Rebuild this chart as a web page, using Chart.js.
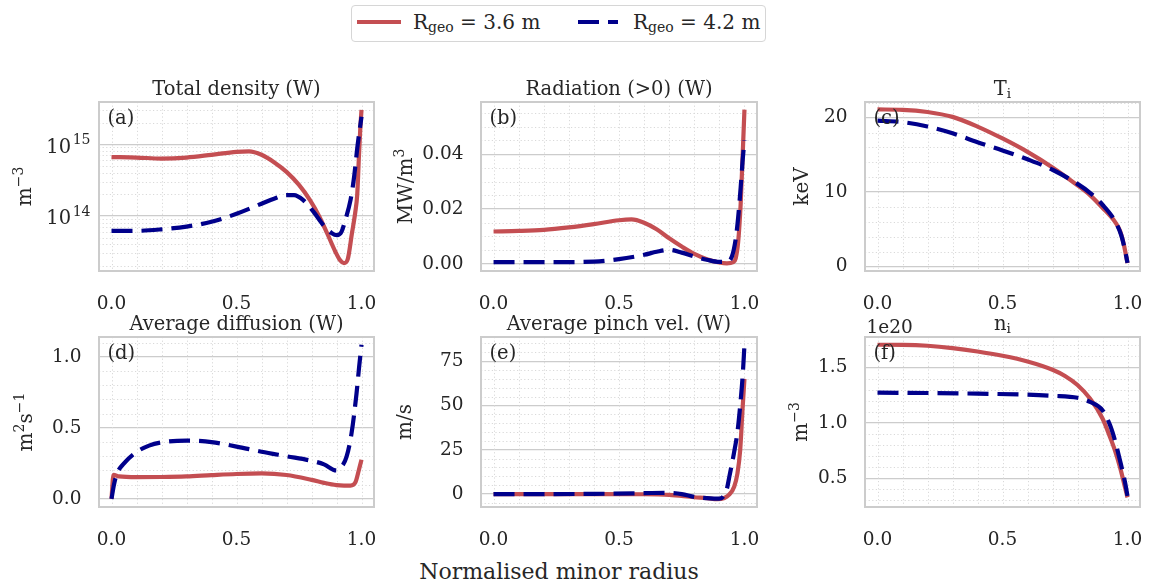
<!DOCTYPE html>
<html><head><meta charset="utf-8">
<script src="https://cdn.jsdelivr.net/npm/chart.js@4.4.1/dist/chart.umd.min.js"></script>
<style>
html,body{margin:0;padding:0;background:#fff}
body{width:1150px;height:588px;position:relative;overflow:hidden;font-family:'DejaVu Serif',serif;color:#262626}
canvas{position:absolute}
.leg{position:absolute;left:351px;top:5px;width:413px;height:35px;border:1.5px solid #d6d6d6;border-radius:4px;background:#fff}
.txt{position:absolute;white-space:nowrap;font-size:20px;line-height:20px}
.txt sub{font-size:0.7em;vertical-align:-0.2em;line-height:0}
.sw{position:absolute;height:4px}
</style></head><body>
<div class="leg"></div>
<div class="sw" style="left:357px;top:20px;width:44px;background:#c44e52"></div>
<div class="txt" style="left:413px;top:12px">R<sub>geo</sub> = 3.6 m</div>
<div class="sw" style="left:578px;top:20px;width:21px;background:#00008b"></div>
<div class="sw" style="left:608px;top:20px;width:10px;background:#00008b"></div>
<div class="txt" style="left:633px;top:12px">R<sub>geo</sub> = 4.2 m</div>
<div class="txt" style="left:0;width:1118px;text-align:center;top:561px;font-size:22px;line-height:22px">Normalised minor radius</div>
<script>
// ---------- shared x axis ----------
const xTicks = [0, 0.5, 1.0];
const xTickLabels = ['0.0', '0.5', '1.0'];
const xMinor = [0, 0.1, 0.2, 0.3, 0.4, 0.5, 0.6, 0.7, 0.8, 0.9, 1.0];

// ---------- (a) Total density (W), m^-3 ----------
const densX_36 = [0, 0.1, 0.2, 0.3, 0.4, 0.5, 0.55, 0.6, 0.65, 0.7, 0.75, 0.794, 0.83, 0.862, 0.895, 0.915, 0.93, 0.945, 0.962, 0.975, 0.983, 0.99, 0.995, 1.0];
const dens_36  = [6.6e14, 6.5e14, 6.3e14, 6.5e14, 7.1e14, 7.8e14, 7.9e14, 7.1e14, 5.6e14, 4.1e14, 2.7e14, 1.66e14, 1.0e14, 5.8e13, 3.2e13, 2.4e13, 2.2e13, 2.5e13, 5.8e13, 1.12e14, 2.0e14, 7.1e14, 1.6e15, 3.0e15];
const densX_42 = [0, 0.1, 0.2, 0.3, 0.4, 0.5, 0.6, 0.65, 0.7, 0.73, 0.767, 0.81, 0.848, 0.88, 0.902, 0.92, 0.935, 0.956, 0.969, 0.985, 1.0];
const dens_42  = [6.2e13, 6.2e13, 6.5e13, 7.1e13, 8.3e13, 1.07e14, 1.48e14, 1.74e14, 1.95e14, 1.95e14, 1.66e14, 1.12e14, 7.4e13, 5.8e13, 5.4e13, 6.0e13, 8.7e13, 1.66e14, 3.2e14, 1.0e15, 2.4e15];
const densTicks = [1e14, 1e15];
const densTickExp = ['14', '15'];          // tick labels: 10^14, 10^15
const densMinor = [2e13, 3e13, 4e13, 5e13, 6e13, 7e13, 8e13, 9e13, 2e14, 3e14, 4e14, 5e14, 6e14, 7e14, 8e14, 9e14, 2e15, 3e15];

// ---------- (b) Radiation (>0) (W), MW/m^3 ----------
const radX_36 = [0, 0.1, 0.2, 0.3, 0.4, 0.5, 0.55, 0.6, 0.65, 0.7, 0.75, 0.8, 0.85, 0.9, 0.93, 0.955, 0.965, 0.975, 0.985, 0.993, 1.0];
const rad_36  = [0.0118, 0.012, 0.0124, 0.0133, 0.0145, 0.0159, 0.0162, 0.015, 0.0126, 0.0093, 0.0063, 0.0036, 0.0017, 0.0005, 0.0002, 0.0006, 0.002, 0.008, 0.022, 0.04, 0.0562];
const radX_42 = [0, 0.2, 0.4, 0.5, 0.6, 0.65, 0.7, 0.75, 0.8, 0.85, 0.9, 0.93, 0.95, 0.965, 0.975, 0.985, 0.993, 1.0];
const rad_42  = [0.0006, 0.0006, 0.0008, 0.0017, 0.0033, 0.0044, 0.0051, 0.0041, 0.0027, 0.0015, 0.0007, 0.0008, 0.0027, 0.009, 0.017, 0.028, 0.038, 0.045];
const radTicks = [0, 0.02, 0.04];
const radTickLabels = ['0.00', '0.02', '0.04'];
const radMinor = [0.005, 0.01, 0.015, 0.025, 0.03, 0.035, 0.045, 0.05, 0.055];

// ---------- (c) T_i, keV ----------
const tiX_36 = [0, 0.1, 0.2, 0.3, 0.4, 0.5, 0.6, 0.7, 0.8, 0.85, 0.9, 0.95, 0.97, 0.985, 1.0];
const ti_36  = [21.1, 21.05, 20.76, 20.1, 18.8, 17.2, 15.4, 13.3, 10.9, 9.6, 7.9, 6.0, 4.8, 3.0, 0.45];
const tiX_42 = [0, 0.1, 0.2, 0.3, 0.4, 0.5, 0.6, 0.7, 0.8, 0.85, 0.9, 0.95, 0.975, 0.99, 1.0];
const ti_42  = [19.6, 19.4, 18.8, 17.9, 16.7, 15.6, 14.4, 13.0, 11.1, 9.9, 8.3, 6.1, 4.2, 2.2, 0.5];
const tiTicks = [0, 10, 20];
const tiTickLabels = ['0', '10', '20'];
const tiMinor = [2, 4, 6, 8, 12, 14, 16, 18, 22];

// ---------- (d) Average diffusion (W), m^2 s^-1 ----------
const difX_36 = [0, 0.008, 0.03, 0.1, 0.2, 0.3, 0.4, 0.5, 0.6, 0.7, 0.8, 0.85, 0.9, 0.93, 0.956, 0.976, 0.989, 1.0];
const dif_36  = [0, 0.17, 0.158, 0.153, 0.154, 0.158, 0.167, 0.175, 0.179, 0.168, 0.134, 0.113, 0.097, 0.094, 0.094, 0.118, 0.2, 0.276];
const difX_42 = [0, 0.01, 0.02, 0.05, 0.1, 0.15, 0.2, 0.3, 0.4, 0.5, 0.6, 0.7, 0.8, 0.85, 0.9, 0.92, 0.94, 0.96, 0.98, 0.99, 1.0];
const dif_42  = [0, 0.1, 0.17, 0.25, 0.33, 0.375, 0.398, 0.41, 0.4, 0.368, 0.332, 0.3, 0.268, 0.243, 0.2, 0.225, 0.295, 0.46, 0.74, 0.92, 1.085];
const difTicks = [0, 0.5, 1.0];
const difTickLabels = ['0.0', '0.5', '1.0'];
const difMinor = [0.1, 0.2, 0.3, 0.4, 0.6, 0.7, 0.8, 0.9, 1.1];

// ---------- (e) Average pinch vel. (W), m/s ----------
const pinX_36 = [0, 0.2, 0.4, 0.6, 0.7, 0.8, 0.85, 0.892, 0.92, 0.938, 0.959, 0.972, 0.983, 0.992, 1.0];
const pin_36  = [0, 0, 0, -0.1, -0.5, -1.8, -2.3, -2.9, -2.2, -0.5, 4.1, 11.6, 24.8, 47, 65];
const pinX_42 = [0, 0.2, 0.4, 0.6, 0.68, 0.75, 0.8, 0.85, 0.9, 0.915, 0.93, 0.94, 0.958, 0.973, 0.985, 0.993, 1.0];
const pin_42  = [0, 0, 0.1, 0.5, 0.7, 0.0, -1.6, -2.3, -2.6, -1.5, 3, 10, 23, 36, 53, 67, 84];
const pinTicks = [0, 25, 50, 75];
const pinTickLabels = ['0', '25', '50', '75'];
const pinMinor = [-5, 5, 10, 15, 20, 30, 35, 40, 45, 55, 60, 65, 70, 80, 85];

// ---------- (f) n_i, m^-3 (x 1e20) ----------
const niX_36 = [0, 0.1, 0.2, 0.3, 0.4, 0.5, 0.6, 0.7, 0.75, 0.8, 0.85, 0.9, 0.93, 0.95, 0.97, 0.99, 1.0];
const ni_36  = [1.706, 1.705, 1.697, 1.676, 1.645, 1.606, 1.555, 1.48, 1.424, 1.342, 1.22, 1.04, 0.873, 0.75, 0.6, 0.418, 0.327];
const niX_42 = [0, 0.2, 0.4, 0.6, 0.7, 0.8, 0.85, 0.9, 0.93, 0.95, 0.97, 0.99, 1.0];
const ni_42  = [1.273, 1.27, 1.264, 1.255, 1.245, 1.227, 1.19, 1.115, 0.98, 0.84, 0.66, 0.464, 0.34];
const niTicks = [0.5, 1.0, 1.5];
const niTickLabels = ['0.5', '1.0', '1.5'];
const niMinor = [0.3, 0.4, 0.6, 0.7, 0.8, 0.9, 1.1, 1.2, 1.3, 1.4, 1.6, 1.7];

// ---------- styling ----------
const FONT = "'DejaVu Serif', serif";
const TXT = '#262626';
const RED = '#c44e52';
const BLUE = '#00008b';
const TICK = 18.5, TITLE = 19.5, YLAB = 20;
Chart.defaults.font.family = FONT;
Chart.defaults.color = TXT;

// rich text: parts = [{t, s:'sup'|'sub', gap}]; draws at baseline y
function partSize(p, size) { return p.s ? size * (p.k || 0.7) : size; }
function richWidth(ctx, parts, size) {
  let w = 0;
  parts.forEach(p => { ctx.font = partSize(p, size) + 'px ' + FONT; w += ctx.measureText(p.t).width + (p.gap || 0); });
  return w;
}
function drawRich(ctx, parts, x, y, size, align) {
  const w = richWidth(ctx, parts, size);
  let cx = align === 'right' ? x - w : x - w / 2;
  ctx.textAlign = 'left'; ctx.textBaseline = 'alphabetic';
  parts.forEach(p => {
    const sz = partSize(p, size);
    ctx.font = sz + 'px ' + FONT;
    cx += (p.gap || 0);
    const dy = p.s === 'sup' ? -0.42 * size : (p.s === 'sub' ? 0.17 * size : 0);
    ctx.fillText(p.t, cx, y + dy);
    cx += ctx.measureText(p.t).width;
  });
}

const deco = {
  id: 'deco',
  beforeDatasetsDraw(chart, args, o) {
    const {ctx, chartArea: a, scales} = chart;
    ctx.save();
    ctx.beginPath(); ctx.rect(a.left, a.top, a.width, a.height); ctx.clip();
    ctx.strokeStyle = '#d9d9d9'; ctx.lineWidth = 1; ctx.setLineDash([1.2, 2.4]);
    (o.minorX || []).forEach(v => {
      const p = Math.round(scales.x.getPixelForValue(v)) + 0.5;
      ctx.beginPath(); ctx.moveTo(p, a.top); ctx.lineTo(p, a.bottom); ctx.stroke();
    });
    (o.minorY || []).forEach(v => {
      const p = Math.round(scales.y.getPixelForValue(v)) + 0.5;
      ctx.beginPath(); ctx.moveTo(a.left, p); ctx.lineTo(a.right, p); ctx.stroke();
    });
    ctx.restore();
  },
  afterDatasetsDraw(chart, args, o) {
    const {ctx, chartArea: a, scales} = chart;
    ctx.save();
    ctx.strokeStyle = '#cccccc'; ctx.lineWidth = 2;
    ctx.strokeRect(a.left, a.top, a.width, a.height);
    ctx.fillStyle = TXT;
    ctx.font = '19.5px ' + FONT; ctx.textBaseline = 'middle'; ctx.textAlign = 'left';
    if (o.letter) ctx.fillText(o.letter, a.left + 8.5, a.top + 17);
    if (o.offset) { ctx.font = TICK + 'px ' + FONT; ctx.textBaseline = 'alphabetic'; ctx.fillText(o.offset, a.left + 1.5, a.top - 4); }
    // panel title
    drawRich(ctx, o.title, (a.left + a.right) / 2, a.top - 7.5, TITLE, 'center');
    // y-axis label (rotated)
    ctx.save();
    ctx.translate(o.ylabX, (a.top + a.bottom) / 2);
    ctx.rotate(-Math.PI / 2);
    drawRich(ctx, o.ylabel, 0, 0, YLAB, 'center');
    ctx.restore();
    // power-of-ten tick labels
    if (o.expTicks) {
      o.expTicks.vals.forEach((v, i) => {
        const py = scales.y.getPixelForValue(v);
        drawRich(ctx, [{t: '10'}, {t: o.expTicks.exps[i], s: 'sup', k: 0.72, gap: 1.5}], a.left - 8.5, py + 8.5, 19.5, 'right');
      });
    }
    ctx.restore();
  }
};

const zip = (xs, ys) => xs.map((x, i) => ({x: x, y: ys[i]}));

function panel(c) {
  const YW = 95, TH = 40, XH = 40, PR = 10;
  const cv = document.createElement('canvas');
  cv.width = YW + (c.R - c.L) + PR;
  cv.height = TH + (c.B - c.T) + XH;
  const left = c.L - YW;
  cv.style.left = left + 'px';
  cv.style.top = (c.T - TH) + 'px';
  document.body.appendChild(cv);
  new Chart(cv, {
    type: 'line',
    data: {datasets: [
      {label: 'R_geo = 4.2 m', data: zip(c.xb, c.yb), borderColor: BLUE, borderWidth: 4.2, borderDash: [21, 9],
       borderCapStyle: 'butt', pointRadius: 0, cubicInterpolationMode: 'monotone', fill: false, order: 0},
      {label: 'R_geo = 3.6 m', data: zip(c.xr, c.yr), borderColor: RED, borderWidth: 4.2,
       borderCapStyle: 'butt', pointRadius: 0, cubicInterpolationMode: 'monotone', fill: false, order: 1}
    ]},
    options: {
      responsive: false, animation: false, devicePixelRatio: 1,
      layout: {padding: {left: 0, right: PR, top: TH, bottom: 0}},
      plugins: {
        legend: {display: false}, tooltip: {enabled: false}, title: {display: false},
        deco: {letter: c.letter, minorX: xMinor, minorY: c.minor, offset: c.offset, title: c.title,
               ylabel: c.ylabel, ylabX: c.ylabX - left, expTicks: c.expTicks}
      },
      scales: {
        x: {type: 'linear', min: -0.05, max: 1.05,
            afterBuildTicks: s => { s.ticks = xTicks.map(v => ({value: v})); },
            ticks: {autoSkip: false, maxRotation: 0, padding: 14, color: TXT, font: {size: TICK},
                    callback: (v, i) => xTickLabels[i]},
            grid: {display: false}, border: {display: false},
            afterFit: s => { s.height = XH; s.paddingLeft = 0; s.paddingRight = 0; }},
        y: {type: c.log ? 'logarithmic' : 'linear', min: c.ymin, max: c.ymax,
            afterBuildTicks: s => { s.ticks = c.ticks.map(v => ({value: v})); },
            ticks: {display: !c.expTicks, autoSkip: false, padding: 17.5, color: TXT, font: {size: TICK},
                    callback: (v, i) => c.tickLabels ? c.tickLabels[i] : ''},
            grid: {color: '#cccccc', lineWidth: 1.2, drawTicks: false}, border: {display: false},
            title: {display: false},
            afterFit: s => { s.width = YW; s.paddingTop = 0; s.paddingBottom = 0; }}
      }
    },
    plugins: [deco]
  });
}

const M = '\u2212';
panel({L: 99, R: 374, T: 102, B: 271, title: [{t: 'Total density (W)'}], letter: '(a)', log: true,
       ymin: 1.71e13, ymax: 3.86e15, ticks: densTicks, expTicks: {vals: densTicks, exps: densTickExp}, minor: densMinor,
       ylabel: [{t: 'm'}, {t: M + '3', s: 'sup'}], ylabX: 31, xr: densX_36, yr: dens_36, xb: densX_42, yb: dens_42});
panel({L: 481, R: 757, T: 102, B: 271, title: [{t: 'Radiation (>0) (W)'}], letter: '(b)',
       ymin: -0.0026, ymax: 0.059, ticks: radTicks, tickLabels: radTickLabels, minor: radMinor,
       ylabel: [{t: 'MW/m'}, {t: '3', s: 'sup'}], ylabX: 412, xr: radX_36, yr: rad_36, xb: radX_42, yb: rad_42});
panel({L: 865, R: 1140, T: 102, B: 271, title: [{t: 'T'}, {t: 'i', s: 'sub'}], letter: '(c)',
       ymin: -0.6, ymax: 22.1, ticks: tiTicks, tickLabels: tiTickLabels, minor: tiMinor,
       ylabel: [{t: 'keV'}], ylabX: 808, xr: tiX_36, yr: ti_36, xb: tiX_42, yb: ti_42});
panel({L: 99, R: 374, T: 337, B: 507, title: [{t: 'Average diffusion (W)'}], letter: '(d)',
       ymin: -0.057, ymax: 1.139, ticks: difTicks, tickLabels: difTickLabels, minor: difMinor,
       ylabel: [{t: 'm'}, {t: '2', s: 'sup'}, {t: 's'}, {t: M + '1', s: 'sup'}], ylabX: 32,
       xr: difX_36, yr: dif_36, xb: difX_42, yb: dif_42});
panel({L: 481, R: 757, T: 337, B: 507, title: [{t: 'Average pinch vel. (W)'}], letter: '(e)',
       ymin: -7.3, ymax: 88.6, ticks: pinTicks, tickLabels: pinTickLabels, minor: pinMinor,
       ylabel: [{t: 'm/s'}], ylabX: 411, xr: pinX_36, yr: pin_36, xb: pinX_42, yb: pin_42});
panel({L: 865, R: 1140, T: 337, B: 507, title: [{t: 'n'}, {t: 'i', s: 'sub'}], letter: '(f)', offset: '1e20',
       ymin: 0.24, ymax: 1.776, ticks: niTicks, tickLabels: niTickLabels, minor: niMinor,
       ylabel: [{t: 'm'}, {t: M + '3', s: 'sup'}], ylabX: 807, xr: niX_36, yr: ni_36, xb: niX_42, yb: ni_42});
</script>
</body></html>
